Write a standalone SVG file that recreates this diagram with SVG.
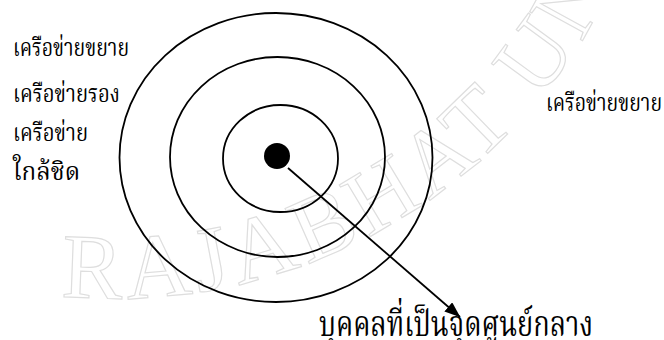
<svg xmlns="http://www.w3.org/2000/svg" width="664" height="340" viewBox="0 0 664 340">
<defs>
<style>
.ring{fill:none;stroke:#000;stroke-width:1.8}
.lbl{font-family:"Noto Serif Thai","Noto Sans Thai Looped","Noto Sans Thai","Noto Sans",serif;fill:#000}
.wm{font-family:"Liberation Serif",serif;font-size:92px;fill:none;stroke:#dedede;stroke-width:1.2;letter-spacing:5px}
</style>
<marker id="ah" markerWidth="16" markerHeight="12" refX="15.5" refY="6" orient="auto" markerUnits="userSpaceOnUse" viewBox="0 0 16 12">
<path d="M0,0 L16,6 L0,12 Z" fill="#000"/>
</marker>
<path id="wmarc" d="M 37 293 A 552 552 0 0 0 658 -158"/>
</defs>
<rect width="664" height="340" fill="#fff"/>
<g id="watermark">
<text class="wm"><textPath href="#wmarc" startOffset="24">RAJABHAT UNI</textPath></text>
</g>
<g id="rings">
<ellipse id="outer" class="ring" cx="276" cy="157.5" rx="156.5" ry="144.5"/>
<ellipse id="middle" class="ring" cx="277.5" cy="157" rx="107.5" ry="100"/>
<ellipse id="inner" class="ring" cx="280.5" cy="158.5" rx="57.5" ry="53.5"/>
</g>
<g id="center">
<circle cx="277" cy="156" r="13" fill="#000"/>
</g>
<g id="connectors">
<line x1="288" y1="168" x2="460" y2="317" stroke="#000" stroke-width="1.8" marker-end="url(#ah)"/>
</g>
<g id="labels-left">
<text class="lbl" x="13" y="56" font-size="25" textLength="116" lengthAdjust="spacingAndGlyphs">เครือข่ายขยาย</text>
<text class="lbl" x="13" y="102" font-size="25" textLength="107" lengthAdjust="spacingAndGlyphs">เครือข่ายรอง</text>
<text class="lbl" x="13" y="141" font-size="25" textLength="75" lengthAdjust="spacingAndGlyphs">เครือข่าย</text>
<text class="lbl" x="13" y="180" font-size="25" textLength="67" lengthAdjust="spacingAndGlyphs">ใกล้ชิด</text>
</g>
<g id="label-right">
<text class="lbl" x="546" y="111" font-size="24" textLength="116" lengthAdjust="spacingAndGlyphs">เครือข่ายขยาย</text>
</g>
<g id="label-bottom">
<text class="lbl" x="319" y="336" font-size="36" textLength="274" lengthAdjust="spacingAndGlyphs">บุคคลที่เป็นจุดศูนย์กลาง</text>
</g>
</svg>
